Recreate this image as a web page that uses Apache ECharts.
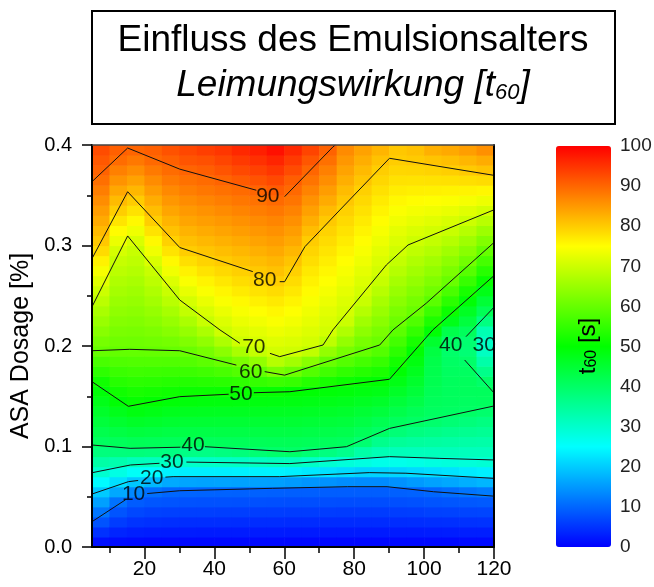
<!DOCTYPE html>
<html lang="de">
<head>
<meta charset="UTF-8">
<title>Einfluss des Emulsionsalters</title>
<script src="https://cdn.jsdelivr.net/npm/echarts@6/dist/echarts.min.js"></script>
<style>
    html, body { margin: 0; padding: 0; background: #fff; }
    #main { width: 654px; height: 587px; }
</style>
</head>
<body>
<div id="main"></div>
<script>
    const FONT = '"Liberation Sans", Arial, Helvetica, sans-serif';

    // cell centres of the t60 map: emulsion age (x) and ASA dosage (y)
    const xCells = [7.5, 12.5, 17.5, 22.5, 27.5, 32.5, 37.5, 42.5, 47.5, 52.5, 57.5, 62.5,
        67.5, 72.5, 77.5, 82.5, 87.5, 92.5, 97.5, 102.5, 107.5, 112.5, 117.5];
    const yCells = [];
    for (let k = 0; k < 40; k++) yCells.push(0.005 + k * 0.01);

    // t60 [s], one profile per xCells entry (bottom -> top)
    const t60ByAge = [
        [1.6, 4.8, 8.1, 11.6, 15.7, 19.8, 24.7, 29.7, 33.7, 37.7, 40.7, 42.5, 44.2, 45.9, 47.6, 49.3, 51.6, 54.4, 57.1, 59.9, 61.6, 63.3, 65.0, 66.6, 68.3, 70.0, 72.1, 74.2, 76.3, 78.5, 80.4, 81.8, 83.3, 84.7, 86.2, 87.6, 89.1, 90.4, 91.4, 92.5],
        [1.2, 3.5, 5.9, 8.2, 11.2, 16.5, 22.0, 27.6, 32.9, 37.9, 41.2, 43.3, 45.4, 47.5, 49.6, 51.6, 53.7, 55.7, 57.7, 59.7, 60.9, 62.0, 63.0, 64.1, 65.1, 66.2, 67.2, 68.3, 69.4, 70.9, 73.1, 75.3, 77.5, 79.8, 81.7, 83.6, 85.6, 87.5, 89.4, 90.6],
        [1.0, 3.0, 5.0, 7.0, 9.0, 13.2, 19.5, 25.7, 31.8, 38.0, 41.6, 43.9, 46.2, 48.5, 50.6, 52.4, 54.2, 56.1, 57.9, 59.7, 60.8, 61.8, 62.7, 63.7, 64.7, 65.6, 66.6, 67.6, 68.6, 69.5, 71.2, 73.4, 75.6, 77.8, 80.0, 82.1, 84.1, 86.2, 88.2, 90.1],
        [0.9, 2.8, 4.7, 6.5, 8.4, 10.9, 18.0, 24.8, 31.4, 37.7, 41.4, 43.6, 45.8, 47.9, 50.1, 52.0, 54.0, 55.9, 57.9, 59.8, 61.1, 62.3, 63.5, 64.7, 66.0, 67.2, 68.4, 69.6, 71.4, 73.5, 75.6, 77.7, 79.8, 81.4, 83.0, 84.7, 86.3, 88.0, 89.7, 90.6],
        [0.9, 2.7, 4.5, 6.3, 8.2, 10.0, 16.7, 23.7, 30.8, 37.3, 41.2, 43.2, 45.3, 47.3, 49.4, 51.5, 53.6, 55.7, 57.8, 59.9, 61.5, 63.2, 64.8, 66.4, 68.1, 69.7, 71.6, 73.6, 75.6, 77.6, 79.5, 81.0, 82.4, 83.8, 85.2, 86.6, 88.0, 89.4, 90.6, 92.0],
        [0.9, 2.7, 4.4, 6.2, 8.0, 9.8, 16.2, 23.4, 30.3, 37.0, 41.1, 43.1, 45.0, 47.0, 49.0, 51.1, 53.4, 55.8, 58.1, 60.3, 62.5, 64.7, 66.8, 69.0, 70.9, 72.7, 74.5, 76.3, 78.1, 79.9, 81.2, 82.5, 83.8, 85.0, 86.3, 87.6, 88.9, 90.2, 91.8, 93.0],
        [0.9, 2.6, 4.4, 6.2, 7.9, 9.7, 16.0, 23.4, 30.5, 37.0, 41.1, 43.0, 45.0, 46.9, 48.8, 51.1, 53.7, 56.3, 59.0, 61.6, 64.2, 66.9, 69.6, 71.3, 72.9, 74.5, 76.1, 77.7, 79.3, 80.7, 82.0, 83.2, 84.5, 85.7, 87.0, 88.3, 89.5, 90.8, 92.2, 93.9],
        [0.9, 2.6, 4.4, 6.1, 7.9, 9.6, 16.1, 23.4, 30.6, 37.5, 41.2, 43.1, 44.9, 46.8, 48.7, 51.0, 54.0, 57.1, 60.2, 63.6, 67.0, 70.2, 71.6, 73.0, 74.5, 75.9, 77.3, 78.7, 80.1, 81.4, 82.6, 83.9, 85.1, 86.4, 87.6, 88.9, 90.2, 91.8, 93.2, 94.7],
        [0.9, 2.6, 4.3, 6.1, 7.8, 9.5, 15.9, 23.6, 30.8, 37.9, 41.3, 43.1, 44.9, 46.8, 48.6, 50.8, 54.5, 58.1, 62.1, 66.6, 70.3, 71.7, 73.0, 74.3, 75.6, 77.0, 78.3, 79.6, 80.9, 82.1, 83.3, 84.6, 85.8, 87.1, 88.3, 89.5, 91.1, 92.8, 94.4, 96.1],
        [0.9, 2.6, 4.3, 6.0, 7.8, 9.5, 15.8, 23.7, 31.1, 38.8, 41.5, 43.2, 45.0, 46.8, 48.5, 50.6, 55.1, 59.6, 64.3, 69.2, 71.1, 72.4, 73.7, 75.1, 76.4, 77.7, 79.0, 80.3, 81.5, 82.7, 84.0, 85.2, 86.4, 87.6, 88.8, 90.1, 91.9, 93.6, 95.3, 97.0],
        [0.9, 2.6, 4.3, 6.0, 7.7, 9.4, 15.7, 23.8, 31.5, 39.5, 41.6, 43.3, 45.0, 46.7, 48.4, 50.5, 55.8, 62.3, 67.8, 70.6, 71.9, 73.2, 74.5, 75.8, 77.1, 78.4, 79.7, 81.0, 82.2, 83.4, 84.6, 85.8, 87.0, 88.2, 89.6, 91.0, 92.8, 94.7, 96.5, 98.4],
        [0.8, 2.5, 4.2, 5.9, 7.6, 9.3, 15.2, 23.5, 31.5, 39.9, 41.6, 43.3, 45.0, 46.6, 48.3, 50.0, 55.3, 60.7, 66.0, 70.3, 71.5, 72.6, 73.8, 74.9, 76.1, 77.3, 78.4, 79.6, 80.8, 82.1, 83.4, 84.6, 85.9, 87.2, 88.5, 89.7, 90.8, 92.6, 94.3, 96.1],
        [0.8, 2.5, 4.2, 5.9, 7.6, 9.3, 14.6, 22.8, 30.5, 38.7, 41.4, 43.0, 44.7, 46.4, 48.0, 49.7, 53.6, 58.1, 63.3, 68.8, 70.7, 71.7, 72.6, 73.5, 74.4, 75.4, 76.3, 77.2, 78.2, 79.1, 80.0, 81.5, 82.9, 84.3, 85.7, 87.2, 88.6, 90.0, 91.6, 93.3],
        [0.8, 2.5, 4.2, 5.9, 7.6, 9.2, 14.3, 22.1, 29.6, 37.5, 41.1, 42.8, 44.4, 46.1, 47.7, 49.3, 52.3, 56.3, 60.2, 64.4, 68.5, 70.6, 71.4, 72.2, 73.1, 74.0, 74.9, 75.8, 76.7, 77.5, 78.4, 79.3, 80.3, 81.7, 83.2, 84.6, 86.1, 87.5, 89.0, 90.4],
        [0.8, 2.5, 4.2, 5.8, 7.5, 9.2, 13.8, 21.5, 28.7, 36.3, 40.8, 42.5, 44.1, 45.7, 47.4, 49.0, 51.2, 54.7, 58.2, 61.7, 64.5, 67.3, 69.8, 70.8, 71.6, 72.5, 73.4, 74.2, 75.1, 76.0, 76.9, 77.7, 78.6, 79.5, 80.5, 81.6, 82.8, 84.0, 85.2, 86.4],
        [0.8, 2.5, 4.2, 5.8, 7.5, 9.2, 13.6, 20.8, 28.0, 33.6, 39.0, 41.4, 43.2, 44.9, 46.7, 48.4, 50.4, 53.6, 56.7, 59.8, 61.8, 63.8, 65.7, 67.7, 69.6, 70.7, 71.6, 72.5, 73.4, 74.3, 75.2, 76.1, 77.0, 77.8, 78.7, 79.6, 80.7, 81.8, 82.9, 84.1],
        [0.8, 2.5, 4.2, 5.8, 7.5, 9.2, 13.6, 20.8, 27.2, 32.3, 36.3, 40.2, 42.1, 44.1, 46.0, 47.9, 49.9, 52.6, 55.3, 58.1, 60.5, 62.0, 63.5, 65.0, 66.4, 67.9, 69.4, 70.6, 71.5, 72.4, 73.3, 74.2, 75.2, 76.1, 77.0, 77.9, 78.9, 79.8, 81.0, 82.3],
        [0.9, 2.6, 4.3, 6.0, 7.7, 9.4, 14.2, 20.9, 27.1, 31.8, 35.1, 38.4, 40.9, 42.7, 44.4, 46.2, 48.0, 49.8, 52.0, 54.3, 56.6, 58.9, 60.7, 62.1, 63.5, 64.9, 66.3, 67.7, 69.1, 70.4, 71.5, 72.5, 73.6, 74.6, 75.7, 76.8, 77.8, 78.9, 79.9, 80.5],
        [0.9, 2.6, 4.4, 6.1, 7.9, 9.6, 15.1, 21.4, 27.5, 31.7, 34.6, 37.5, 40.2, 41.6, 43.0, 44.4, 45.7, 47.1, 48.5, 49.8, 52.4, 55.0, 57.7, 60.2, 61.6, 63.0, 64.5, 65.9, 67.3, 68.7, 70.1, 71.4, 72.7, 73.9, 75.2, 76.5, 77.7, 79.0, 80.2, 81.1],
        [0.9, 2.7, 4.5, 6.4, 8.2, 10.0, 15.9, 21.9, 28.0, 31.7, 34.3, 36.9, 39.4, 40.6, 41.2, 41.7, 42.2, 42.5, 42.7, 43.5, 45.5, 49.6, 52.8, 55.8, 58.8, 61.0, 62.6, 64.3, 65.9, 67.5, 69.1, 70.6, 72.1, 73.5, 74.9, 76.4, 77.8, 79.3, 80.8, 82.7],
        [0.9, 2.8, 4.6, 6.5, 8.4, 10.7, 16.5, 22.4, 28.4, 31.8, 34.0, 36.3, 38.6, 40.4, 40.9, 41.0, 41.0, 40.7, 40.3, 39.7, 40.0, 42.6, 47.6, 51.1, 54.2, 57.2, 60.2, 62.1, 63.9, 65.8, 67.7, 69.6, 71.2, 72.9, 74.6, 76.2, 77.9, 79.7, 81.3, 83.4],
        [1.0, 2.9, 4.8, 6.7, 8.6, 11.4, 17.2, 23.0, 28.7, 31.6, 33.7, 35.9, 38.0, 40.1, 40.6, 41.0, 41.0, 40.6, 39.8, 38.6, 39.0, 41.1, 43.9, 46.6, 49.5, 52.4, 55.4, 58.4, 61.2, 63.4, 65.6, 67.8, 70.0, 72.0, 74.1, 76.1, 78.1, 80.2, 82.2, 84.5],
        [1.0, 2.9, 4.9, 6.8, 8.8, 12.1, 17.8, 23.5, 29.2, 31.6, 33.5, 35.5, 37.4, 39.4, 40.8, 41.0, 39.7, 36.5, 33.5, 31.0, 30.5, 32.5, 37.5, 41.7, 44.7, 47.8, 50.8, 53.8, 56.8, 59.9, 62.7, 65.4, 68.1, 70.8, 73.3, 75.8, 78.4, 80.9, 83.1, 85.9]
    ];

    // contour lines [age, dosage], split where the level labels sit
    const c10a = [[5, 0.0252], [14.6, 0.047]];
    const c10b = [[20.8, 0.0532], [30.1, 0.056], [56.7, 0.0584], [78.1, 0.060], [89.4, 0.060], [102.7, 0.055], [120, 0.0506]];
    const c20a = [[5, 0.0527], [15.4, 0.065], [18.2, 0.0662]];
    const c20b = [[26, 0.0695], [28.2, 0.070], [58.7, 0.070], [84.3, 0.074], [94.8, 0.0734], [120, 0.0683]];
    const c30a = [[5, 0.0739], [16, 0.0816], [24.3, 0.0833]];
    const c30b = [[32, 0.0845], [61.6, 0.083], [90.1, 0.0899], [104.3, 0.0882], [120, 0.0866]];
    const c40a = [[5, 0.1015], [15.9, 0.0982], [30.3, 0.0993]];
    const c40b = [[37.3, 0.0998], [61.6, 0.0948], [77.8, 0.0998], [90.1, 0.118], [120, 0.1403]];
    const c40c = [[112, 0.2093], [120, 0.2386]];
    const c40d = [[111.6, 0.1861], [120, 0.1533]];
    const c50a = [[5, 0.1645], [15.4, 0.140], [30.1, 0.1496], [44.1, 0.152]];
    const c50b = [[51.3, 0.1535], [61.6, 0.1545], [90.1, 0.1669], [102.5, 0.216], [120, 0.270]];
    const c60a = [[5, 0.1953], [15.8, 0.1967], [30.1, 0.1953], [46.3, 0.181]];
    const c60b = [[54.4, 0.1745], [60.1, 0.171], [87.3, 0.201], [91.1, 0.216], [100.6, 0.2425], [120, 0.303]];
    const c70a = [[5, 0.239], [15.2, 0.3095], [30.1, 0.2458], [41.6, 0.216], [47.3, 0.2027]];
    const c70b = [[55.9, 0.1927], [58.7, 0.1894], [71.1, 0.201], [73.9, 0.216], [89.2, 0.2806], [95.4, 0.3005], [120, 0.3355]];
    const c80a = [[5, 0.287], [15.2, 0.3535], [30.1, 0.298], [51, 0.274]];
    const c80b = [[58.7, 0.264], [60.1, 0.264], [65.9, 0.2988], [75.9, 0.3353], [90.1, 0.3868], [120, 0.3698]];
    const c90a = [[5, 0.3635], [15.2, 0.397], [30.1, 0.376], [52, 0.355]];
    const c90b = [[60.1, 0.3486], [73.9, 0.398], [74.6, 0.4]];

    const contourSegments = [c10a, c10b, c20a, c20b, c30a, c30b, c40a, c40b, c40c, c40d,
        c50a, c50b, c60a, c60b, c70a, c70b, c80a, c80b, c90a, c90b];

    // contour level labels
    const labelText = ['10', '20', '30', '40', '50', '60', '70', '80', '90', '40', '30'];
    const labelX = [16.9, 22.1, 27.9, 33.9, 47.6, 50.4, 51.3, 54.4, 55.3, 107.6, 117.2];
    const labelY = [0.0525, 0.0687, 0.0846, 0.1015, 0.1522, 0.1741, 0.199, 0.2657, 0.349, 0.201, 0.201];

    const xMajor = [20, 40, 60, 80, 100, 120];
    const xMinor = [10, 30, 50, 70, 90, 110];
    const rainbow = ['#0000ff', '#00ffff', '#00ff00', '#ffff00', '#ff0000'];

    const cells = [];
    t60ByAge.forEach(function (col, i) {
        col.forEach(function (v, j) {
            cells.push([xCells[i], yCells[j], v]);
        });
    });

    const chart = echarts.init(document.getElementById('main'), null, {renderer: 'canvas'});

    const lineSeries = contourSegments.map(function (seg) {
        return {
            type: 'line',
            data: seg,
            symbol: 'none',
            silent: true,
            z: 3,
            lineStyle: {color: '#111', width: 1}
        };
    });

    const option = {
        animation: false,
        textStyle: {fontFamily: FONT},
        grid: [
            {left: 92, top: 145, width: 402, height: 402, outerBoundsMode: 'none'},
            {left: 556, top: 146, width: 55, height: 401, outerBoundsMode: 'none'}
        ],
        xAxis: [
            {
                type: 'value', gridIndex: 0, min: 5, max: 120, position: 'bottom', z: 5,
                axisLine: {lineStyle: {color: '#000', width: 2}},
                axisTick: {customValues: xMajor, length: 12, lineStyle: {color: '#000', width: 1.5}},
                axisLabel: {customValues: xMajor, fontSize: 21, color: '#000', margin: 12, fontFamily: FONT},
                splitLine: {show: false}
            },
            {
                type: 'value', gridIndex: 0, min: 5, max: 120, position: 'bottom', z: 5,
                axisLine: {show: false},
                axisTick: {customValues: xMinor, length: 6, lineStyle: {color: '#000', width: 1.5}},
                axisLabel: {show: false},
                splitLine: {show: false}
            },
            {
                type: 'value', gridIndex: 0, min: 5, max: 120, position: 'top', z: 5,
                axisLine: {lineStyle: {color: '#444', width: 1.5}},
                axisTick: {show: false}, axisLabel: {show: false}, splitLine: {show: false}
            },
            {
                type: 'value', gridIndex: 1, min: 0, max: 1, show: false
            }
        ],
        yAxis: [
            {
                type: 'value', gridIndex: 0, min: 0, max: 0.4, interval: 0.1, z: 5,
                name: 'ASA Dosage [%]', nameLocation: 'middle', nameRotate: 90, nameGap: 46,
                nameTextStyle: {fontSize: 25, color: '#000', fontFamily: FONT},
                axisLine: {lineStyle: {color: '#000', width: 2}},
                axisTick: {length: 10, lineStyle: {color: '#000', width: 1.5}},
                minorTick: {show: true, splitNumber: 2, length: 5, lineStyle: {color: '#000', width: 1.5}},
                axisLabel: {
                    fontSize: 20, color: '#000', margin: 20, fontFamily: FONT,
                    formatter: function (v) { return v.toFixed(1); }
                },
                splitLine: {show: false}
            },
            {
                type: 'value', gridIndex: 0, min: 0, max: 0.4, position: 'right', z: 5,
                axisLine: {lineStyle: {color: '#000', width: 2}},
                axisTick: {show: false}, axisLabel: {show: false}, splitLine: {show: false}
            },
            {
                type: 'value', gridIndex: 1, min: 0, max: 100, interval: 10, position: 'right',
                axisLine: {show: false}, axisTick: {show: false}, splitLine: {show: false},
                axisLabel: {fontSize: 19, color: '#222', margin: 9, fontFamily: FONT}
            }
        ],
        visualMap: {
            type: 'continuous',
            min: 0, max: 100,
            seriesIndex: 0,
            dimension: 2,
            calculable: false,
            hoverLink: false,
            orient: 'vertical',
            left: 556, top: 146,
            padding: 0,
            itemWidth: 55, itemHeight: 401,
            inRange: {color: rainbow}
        },
        series: [
            {
                type: 'custom',
                xAxisIndex: 0, yAxisIndex: 0,
                data: cells,
                clip: true,
                silent: true,
                z: 1,
                renderItem: function (params, api) {
                    const p0 = api.coord([api.value(0) - 2.5, api.value(1) + 0.005]);
                    const p1 = api.coord([api.value(0) + 2.5, api.value(1) - 0.005]);
                    return {
                        type: 'rect',
                        shape: {x: p0[0], y: p0[1], width: p1[0] - p0[0] + 0.6, height: p1[1] - p0[1] + 0.6},
                        style: {fill: api.visual('color')}
                    };
                }
            }
        ].concat(lineSeries).concat([
            {
                type: 'scatter',
                xAxisIndex: 0, yAxisIndex: 0,
                symbolSize: 1,
                itemStyle: {color: 'rgba(0,0,0,0)'},
                silent: true,
                z: 4,
                data: labelText.map(function (t, i) { return [labelX[i], labelY[i], t]; }),
                label: {
                    show: true, position: 'inside',
                    formatter: function (p) { return p.value[2]; },
                    fontSize: 21, color: '#000', fontFamily: FONT
                }
            }
        ]),
        graphic: [
            {
                type: 'rect', left: 91, top: 10, z: 10,
                shape: {width: 523, height: 113},
                style: {fill: '#fff', stroke: '#000', lineWidth: 2}
            },
            {
                type: 'text', x: 353, y: 41, z: 11,
                style: {
                    text: 'Einfluss des Emulsionsalters',
                    font: '37px ' + FONT, fill: '#000',
                    align: 'center', verticalAlign: 'middle'
                }
            },
            {
                type: 'text', x: 353, y: 84, z: 11,
                style: {
                    text: '{m|Leimungswirkung [t}{s|60}{m|]}',
                    fill: '#000', align: 'center', verticalAlign: 'middle',
                    rich: {
                        m: {fontSize: 37, fontStyle: 'italic', fontFamily: FONT, verticalAlign: 'bottom', lineHeight: 40},
                        s: {fontSize: 22, fontStyle: 'italic', fontFamily: FONT, verticalAlign: 'bottom', lineHeight: 16}
                    }
                }
            },
            {
                type: 'text', x: 587, y: 346, rotation: Math.PI / 2, z: 11,
                style: {
                    text: '{m|t}{s|60}{m| [s]}',
                    fill: '#000', align: 'center', verticalAlign: 'middle',
                    rich: {
                        m: {fontSize: 24, fontFamily: FONT, verticalAlign: 'bottom', lineHeight: 26},
                        s: {fontSize: 16, fontFamily: FONT, verticalAlign: 'bottom', lineHeight: 12}
                    }
                }
            }
        ]
    };

    chart.setOption(option);
</script>
</body>
</html>
